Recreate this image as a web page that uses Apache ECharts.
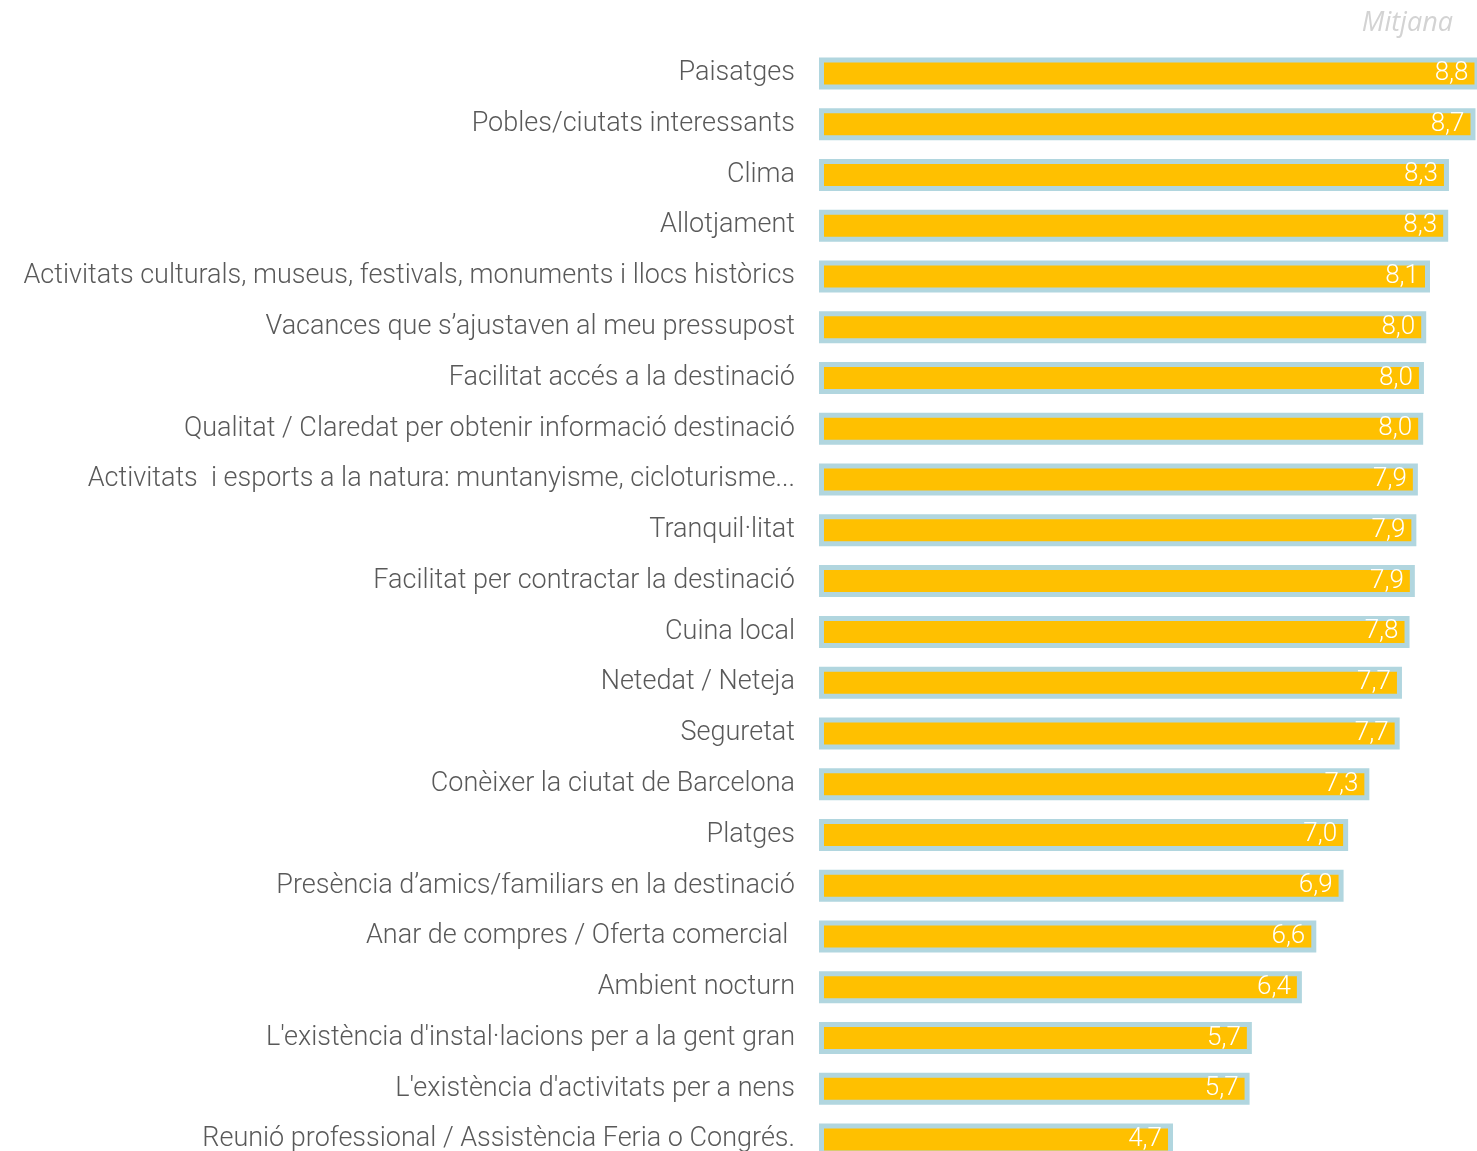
<!DOCTYPE html>
<html>
<head>
<meta charset="utf-8">
<script src="https://cdn.jsdelivr.net/npm/echarts@6/dist/echarts.min.js"></script>
<style>
    html, body { margin: 0; padding: 0; background: #fff; overflow: hidden; }
    #chart { width: 1477px; height: 1151px; }
</style>
</head>
<body>
<div id="chart"></div>
<script>
// categories (top to bottom)
var categories = [
    'Paisatges',
    'Pobles/ciutats interessants',
    'Clima',
    'Allotjament',
    'Activitats culturals, museus, festivals, monuments i llocs històrics',
    'Vacances que s’ajustaven al meu pressupost',
    'Facilitat accés a la destinació',
    'Qualitat / Claredat per obtenir informació destinació',
    'Activitats  i esports a la natura: muntanyisme, cicloturisme...',
    'Tranquil·litat',
    'Facilitat per contractar la destinació',
    'Cuina local',
    'Netedat / Neteja',
    'Seguretat',
    'Conèixer la ciutat de Barcelona',
    'Platges',
    'Presència d’amics/familiars en la destinació',
    'Anar de compres / Oferta comercial ',
    'Ambient nocturn',
    "L'existència d'instal·lacions per a la gent gran",
    "L'existència d'activitats per a nens",
    'Reunió professional / Assistència Feria o Congrés.'
];
// mitjana
var values = [8.80, 8.66, 8.31, 8.30, 8.06, 8.01, 7.98, 7.97, 7.90, 7.88, 7.86,
              7.79, 7.69, 7.66, 7.26, 6.98, 6.92, 6.56, 6.37, 5.71, 5.68, 4.67];

var myChart = echarts.init(document.getElementById('chart'));
var option = {
    animation: false,
    graphic: [{
        type: 'text',
        right: 24,
        top: 10,
        style: {
            text: 'Mitjana',
            font: 'italic 27px "Open Sans"',
            fill: '#d3d3d3'
        }
    }],
    grid: {
        left: 819,
        right: 0,
        top: 48,
        height: 1117,
        outerBoundsMode: 'none',
        containLabel: false
    },
    xAxis: {
        type: 'value',
        min: 0,
        max: 8.68,
        show: false
    },
    yAxis: {
        type: 'category',
        inverse: true,
        data: categories,
        axisLine: {show: false},
        axisTick: {show: false},
        splitLine: {show: false},
        axisLabel: {
            margin: 24,
            color: '#595959',
            fontSize: 27,
            fontFamily: 'Roboto',
            fontWeight: 300
        }
    },
    series: [{
        type: 'bar',
        data: values,
        barWidth: 32,
        clip: true,
        itemStyle: {
            color: '#ffc000',
            borderColor: '#b1d6df',
            borderWidth: 5
        },
        label: {
            show: true,
            position: 'insideRight',
            distance: 11,
            color: '#fff',
            fontSize: 26,
            fontFamily: 'Roboto',
            fontWeight: 300,
            formatter: function (p) {
                return p.value.toFixed(1).replace('.', ',');
            }
        }
    }]
};
myChart.setOption(option);
</script>
</body>
</html>
